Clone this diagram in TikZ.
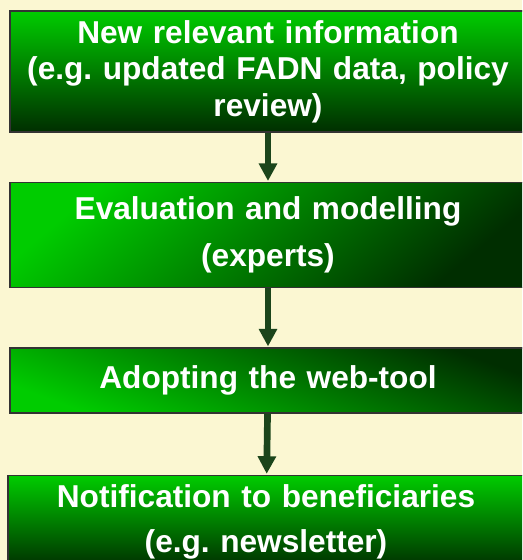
\documentclass[tikz,border=0pt]{standalone}
\usepackage{fontspec}
\setmainfont{Liberation Sans}
\usepackage{xcolor}
\usepackage{tikz}
\usetikzlibrary{arrows.meta, positioning}
\frenchspacing

\definecolor{paper}{HTML}{FBF7D2}
\definecolor{brightgreen}{HTML}{00CC00}
\definecolor{deepgreen}{HTML}{002E00}
\definecolor{arrowgreen}{HTML}{1B451B}

\begin{document}
\begin{tikzpicture}[
        stepbox/.style={rectangle, draw=black!80, line width=0.8pt, text=white, font=\bfseries\fontsize{18}{20.7}\selectfont, align=center, text width=10cm, minimum width=10.32cm, inner sep=0pt},
        flow/.style={-{Triangle[width=10pt, length=10pt]}, line width=3.8pt, draw=arrowgreen, shorten >=0.4pt}
    ]
            \useasboundingbox (0,0) rectangle (10.44,-11.2);
            \clip (0,0) rectangle (10.44,-11.2);
            \fill[paper] (0,0) rectangle (10.44,-11.2);

            \node[stepbox, minimum height=2.42cm, top color=brightgreen, bottom color=deepgreen] (info) at (5.36,-1.43)
                {New relevant information\\(e.g. updated FADN data, policy\\review)};
            \node[stepbox, minimum height=2.10cm, top color=brightgreen, bottom color=deepgreen, shading angle=40, below=0.98cm of info] (eval)
                {Evaluation and modelling\\[6.5pt](experts)};
            \node[stepbox, minimum height=1.30cm, top color=deepgreen, bottom color=brightgreen, shading angle=-20, below=1.18cm of eval] (adopt)
                {Adopting the web-tool};
            \node[stepbox, minimum height=1.86cm, top color=brightgreen, bottom color=deepgreen, below=1.26cm of adopt, yshift=0.04cm, xshift=-0.04cm] (notify)
                {Notification to beneficiaries\\[4.8pt](e.g. newsletter)};

            % Arrows
            \draw[flow] (info) -- (eval);
            \draw[flow] (eval) -- (adopt);
            \draw[flow] (adopt) -- (notify);
\end{tikzpicture}
\end{document}
